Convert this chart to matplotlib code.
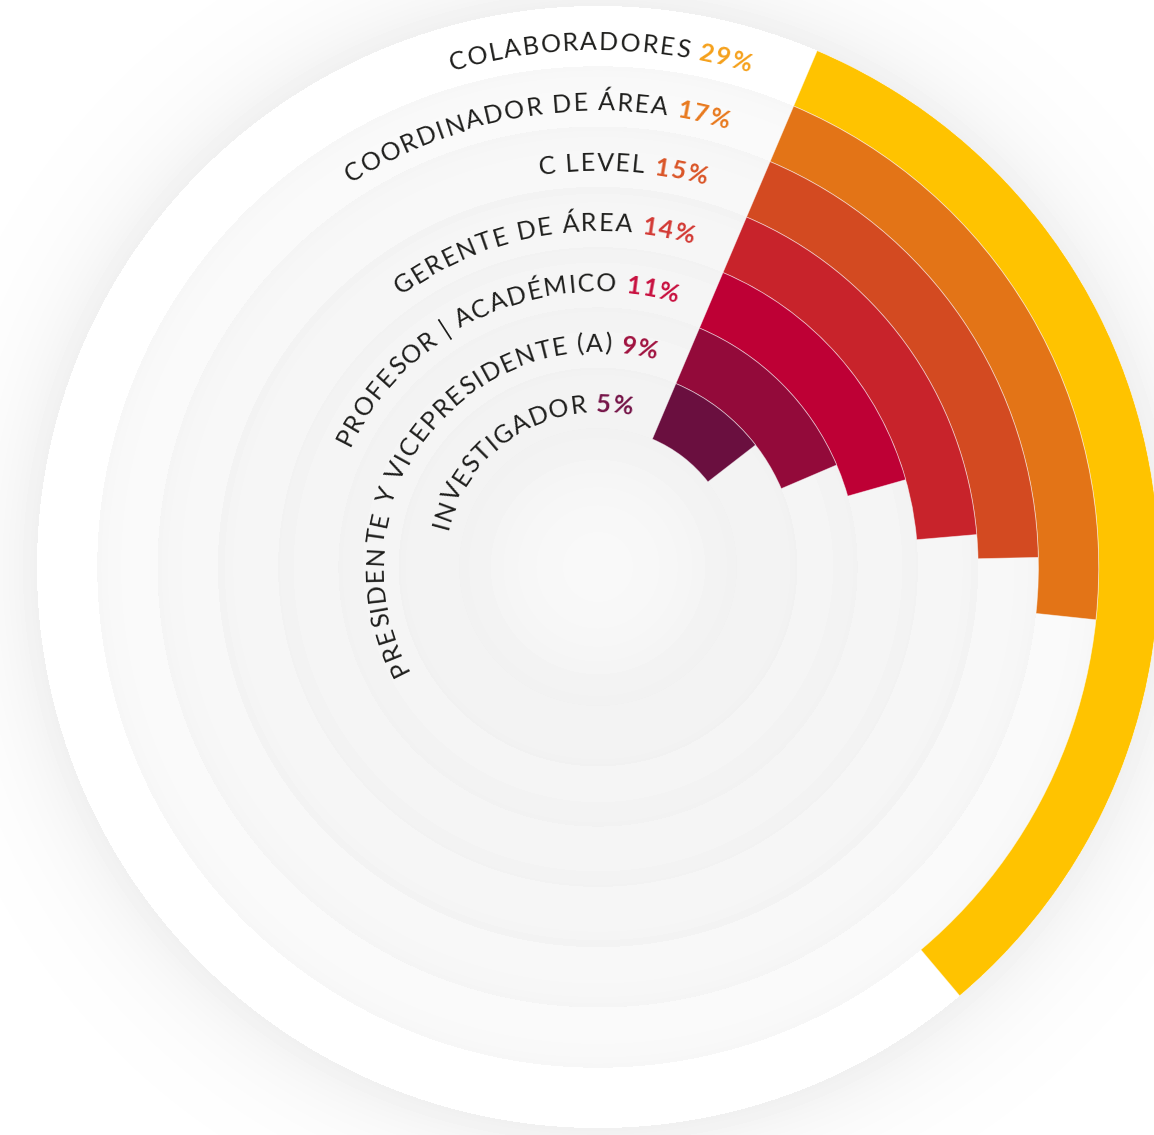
import numpy as np
import matplotlib
matplotlib.use("Agg")
import matplotlib.pyplot as plt
from matplotlib.font_manager import FontProperties, findfont, get_font
from matplotlib.ft2font import LoadFlags

# data, outer ring first
categories = [
    "COLABORADORES",
    "COORDINADOR DE ÁREA",
    "C LEVEL",
    "GERENTE DE ÁREA",
    "PROFESOR | ACADÉMICO",
    "PRESIDENTE Y VICEPRESIDENTE (A)",
    "INVESTIGADOR",
]
values = [29, 17, 15, 14, 11, 9, 5]
bar_colors = ["#FFC300", "#E37417", "#D34A21", "#C8232B", "#BE0035", "#930A3A", "#6A0F3F"]
pct_colors = ["#F5A11C", "#E8791E", "#DA5527", "#D33A35", "#C8103F", "#A0123F", "#751448"]

# layout (pixels)
W_PX, H_PX = 1154, 1135
CX, CY = 598, 568
R_HOLE = 139
R_OUT = 561
RING = (R_OUT - R_HOLE) / len(values)
START = 23.0          # degrees clockwise from 12 o'clock
ARC_BASE = 11.0
ARC_PER_PCT = 3.65
LABEL_END = [17.0, 16.5, 15.7, 16.3, 16.6, 15.6, 12.4]
TRACK = 2.0
FS = 18

label_prop = FontProperties(family="Lato", weight="normal", size=FS)
pct_prop = FontProperties(family="Lato", weight="bold", size=FS)

fig = plt.figure(figsize=(W_PX / 100, H_PX / 100), dpi=100)

# soft background rings
yy, xx = np.mgrid[0:H_PX, 0:W_PX] + 0.5
r = np.hypot(xx - CX, yy - CY)
img = np.full(r.shape, 255.0)
out = r > R_OUT
img[out] = 255 - 15 * np.exp(-(r[out] - R_OUT) / 45)
levels = [255, 249.5, 247.5, 246, 245, 244.5, 244]
for k in range(len(values)):
    r_o = R_OUT - k * RING
    r_i = r_o - RING
    m = (r <= r_o) & (r > r_i)
    if k > 0:
        img[m] = levels[k] - 3.5 * np.exp(-(r_o - r[m]) / 12)
    else:
        img[m] = levels[k]
m = r <= R_HOLE
img[m] = 248.5 - 7.5 * (r[m] / R_HOLE) ** 2

ax_bg = fig.add_axes([0, 0, 1, 1])
ax_bg.imshow(img, cmap="gray", vmin=0, vmax=255, origin="lower",
             extent=(0, W_PX, 0, H_PX), interpolation="bilinear", aspect="auto")
ax_bg.set_axis_off()

ax = fig.add_axes([(CX - R_OUT) / W_PX, (CY - R_OUT) / H_PX,
                   2 * R_OUT / W_PX, 2 * R_OUT / H_PX], projection="polar")
ax.set_theta_zero_location("N")
ax.set_theta_direction(-1)
ax.set_ylim(0, R_OUT)
ax.set_axis_off()

n = len(values)
for i, (v, c) in enumerate(zip(values, bar_colors)):
    ring = n - 1 - i
    ax.bar(np.deg2rad(START), RING, width=np.deg2rad(ARC_BASE + ARC_PER_PCT * v),
           bottom=R_HOLE + ring * RING, align="edge", color=c,
           edgecolor=(1, 1, 1, 0.5), linewidth=0.6)


def advance(prop, ch):
    font = get_font(findfont(prop))
    font.set_size(prop.get_size_in_points(), 100)
    g = font.load_char(ord(ch), flags=LoadFlags.NO_HINTING)
    return g.linearHoriAdvance / 65536


def arc_text(pieces, r_base, theta_end):
    chars = []
    for s, prop, color in pieces:
        for ch in s:
            chars.append((ch, prop, color, advance(prop, ch) + TRACK))
    total = sum(c[3] for c in chars) - TRACK
    r_s = r_base + 8
    th = np.deg2rad(theta_end) - total / r_s
    for ch, prop, color, adv in chars:
        mid = th + (adv - TRACK) / 2 / r_s
        ax.text(mid, r_base, ch, fontproperties=prop, color=color,
                rotation=-np.rad2deg(mid), rotation_mode="anchor",
                ha="center", va="baseline")
        th += adv / r_s


for i, (cat, v) in enumerate(zip(categories, values)):
    ring = n - 1 - i
    r_mid = R_HOLE + (ring + 0.5) * RING
    arc_text([(cat + " ", label_prop, "#1D1D1B"),
              (f"{v}%", pct_prop, pct_colors[i])],
             r_mid - 14, LABEL_END[i])

fig.savefig("out.png", dpi=100)
